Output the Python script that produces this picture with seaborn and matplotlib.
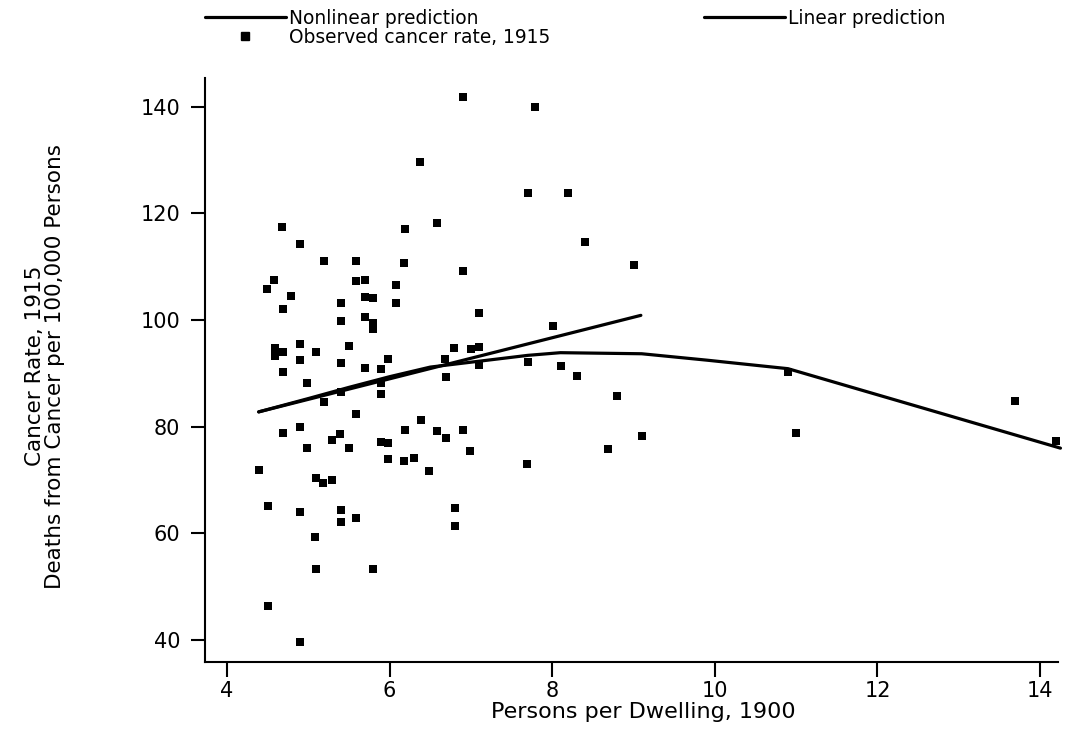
import matplotlib
matplotlib.use("Agg")
import matplotlib.pyplot as plt
from matplotlib.lines import Line2D
import seaborn as sns
import pandas as pd

# ---- data ----
persons_per_dwelling = [
    6.38, 4.68, 6.19, 6.58, 4.90, 5.19, 5.59, 6.18, 4.58, 5.59, 5.70, 4.49, 4.79, 6.08,
    5.40, 5.70, 5.80, 6.08, 4.69, 5.40, 5.70, 5.79, 5.79, 4.90, 4.59, 4.59, 4.69, 5.09,
    5.50, 4.90, 5.98, 5.40, 5.70, 5.89, 4.69, 4.98, 5.89, 5.40, 5.89, 5.19, 5.59, 6.39,
    6.58, 4.69, 4.90, 5.29, 5.39, 6.19, 4.99, 5.50, 5.90, 5.98, 5.98, 6.18, 6.30, 6.49,
    4.40, 5.09, 5.18, 5.29, 4.50, 4.90, 5.40, 5.40, 5.59, 5.08, 5.09, 5.80, 4.50, 4.90,
    6.90, 7.79, 7.70, 8.20, 8.40, 6.90, 9.00, 7.10, 8.01, 6.79, 7.00, 7.10, 6.68, 7.10,
    7.70, 8.11, 6.69, 8.31, 8.80, 6.69, 6.90, 6.99, 7.69, 8.69, 9.10, 6.80, 6.80, 10.90,
    11.00, 13.69, 14.20,
]
cancer_rate_1915 = [
    129.6, 117.4, 117.0, 118.3, 114.3, 111.0, 111.0, 110.8, 107.5, 107.3, 107.6, 105.8, 104.6, 106.6,
    103.2, 104.3, 104.1, 103.2, 102.0, 99.9, 100.5, 99.4, 98.3, 95.6, 94.7, 93.3, 94.1, 94.1,
    95.2, 92.6, 92.8, 91.9, 91.1, 90.8, 90.3, 88.2, 88.3, 86.6, 86.1, 84.6, 82.4, 81.2,
    79.2, 78.8, 79.9, 77.5, 78.6, 79.4, 76.1, 76.1, 77.2, 77.0, 73.9, 73.6, 74.2, 71.7,
    71.9, 70.4, 69.5, 70.0, 65.1, 64.1, 64.4, 62.1, 62.9, 59.4, 53.4, 53.4, 46.4, 39.6,
    141.9, 140.0, 123.8, 123.8, 114.7, 109.2, 110.3, 101.3, 98.9, 94.7, 94.5, 95.0, 92.8, 91.6,
    92.2, 91.4, 89.4, 89.6, 85.8, 77.9, 79.4, 75.4, 73.1, 75.8, 78.3, 64.8, 61.4, 90.3,
    78.8, 84.9, 77.3,
]

nonlinear_x = [4.39, 5.0, 5.5, 6.0, 6.5, 7.1, 7.7, 8.1, 9.1, 9.9, 10.9, 14.25]
nonlinear_y = [82.8, 85.3, 87.4, 89.4, 91.2, 92.3, 93.4, 93.9, 93.7, 92.5, 90.9, 76.0]

linear_x = [4.39, 9.09]
linear_y = [82.8, 100.9]

x_ticks = [4, 6, 8, 10, 12, 14]
y_ticks = [40, 60, 80, 100, 120, 140]

x_label = "Persons per Dwelling, 1900"
y_label = "Cancer Rate, 1915\nDeaths from Cancer per 100,000 Persons"
legend_labels = ["Nonlinear prediction", "Observed cancer rate, 1915", "Linear prediction"]

# ---- build frames ----
obs = pd.DataFrame({"x": persons_per_dwelling, "y": cancer_rate_1915})
nonlin = pd.DataFrame({"x": nonlinear_x, "y": nonlinear_y})
lin = pd.DataFrame({"x": linear_x, "y": linear_y})

sns.set_theme(style="ticks")
plt.rcParams["font.family"] = ["DejaVu Sans"]
plt.rcParams["text.color"] = "black"
plt.rcParams["axes.labelcolor"] = "black"

fig = plt.figure(figsize=(10.7, 7.29), dpi=100)
ax = fig.add_axes([0.1916, 0.0923, 0.7972, 0.8007])

lw = 2.3
sns.lineplot(data=nonlin, x="x", y="y", ax=ax, color="black", linewidth=lw,
             sort=False, estimator=None, legend=False, clip_on=False)
sns.lineplot(data=lin, x="x", y="y", ax=ax, color="black", linewidth=lw,
             sort=False, estimator=None, legend=False, clip_on=False)
sns.scatterplot(data=obs, x="x", y="y", ax=ax, marker="s", s=26, color="black",
                edgecolor="black", linewidth=0, legend=False, clip_on=False, zorder=3)

ax.set_xlim(3.73, 14.22)
ax.set_ylim(35.96, 145.4)
ax.set_xticks(x_ticks)
ax.set_yticks(y_ticks)

sns.despine(ax=ax)
for side in ["left", "bottom"]:
    ax.spines[side].set_linewidth(1.5)
    ax.spines[side].set_color("black")

ax.tick_params(axis="both", colors="black", labelsize=15, width=1.5)
ax.tick_params(axis="y", length=10, pad=8)
ax.tick_params(axis="x", length=11, pad=3)

ax.set_xlabel(x_label, fontsize=16)
ax.set_ylabel(y_label, fontsize=15.5, linespacing=1.0)
ax.xaxis.label.set_va("center")
ax.xaxis.set_label_coords(0.514, -0.0853)
ax.yaxis.label.set_va("center")
ax.yaxis.set_label_coords(-0.1876, 0.5066)

handles = [
    Line2D([], [], color="black", linewidth=lw),
    Line2D([], [], color="black", linestyle="none", marker="s", markersize=5.2),
    Line2D([], [], color="black", linewidth=lw),
]
fig.legend(handles, legend_labels, loc="upper left",
           bbox_to_anchor=(205 / 1070, 1 - 9 / 729), ncol=2, frameon=False,
           fontsize=13.4, handlelength=4.35, handletextpad=0.15,
           columnspacing=8.3, labelspacing=0.0, borderpad=0, borderaxespad=0)

fig.savefig("out.png", dpi=100)
